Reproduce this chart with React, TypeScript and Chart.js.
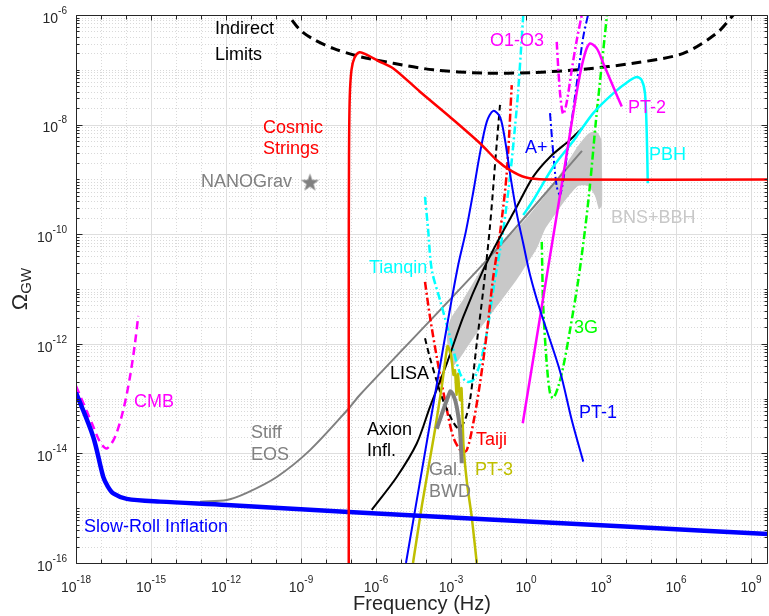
import { useEffect, useRef } from 'react';
import { Chart, registerables } from 'chart.js';

Chart.register(...registerables);

// Every series: pairs of [log10(frequency / Hz), log10(Omega_GW)]
type P = [number, number];

const slowRollInflation: P[] = [
  [-18, -12.89], [-17.31, -13.7], [-16.91, -14.43], [-16.72, -14.61], [-16.51, -14.73],
  [-15.97, -14.83], [-14.64, -14.88], [-11.97, -14.94], [-7.09, -15.07], [4.16, -15.34], [9.7, -15.47],
];
const stiffEOS: P[] = [
  [-13.04, -14.88], [-11.97, -14.85], [-11.17, -14.72], [-9.97, -14.43], [-8.64, -13.94],
  [-7.09, -13.18], [-6.64, -12.93], [-1.44, -10.41], [2.24, -8.48],
];
const cmb: P[] = [
  [-18, -12.77], [-17.31, -13.51], [-17.04, -13.79], [-16.77, -13.91], [-16.44, -13.7],
  [-16.11, -13.21], [-15.84, -12.6], [-15.64, -11.99], [-15.51, -11.49],
];
const cosmicStrings: P[] = [
  [-7.09, -16], [-7.09, -11], [-7.08, -8.6], [-7.05, -7.5], [-6.98, -7.0], [-6.86, -6.78],
  [-6.66, -6.68], [-6.4, -6.72], [-5.9, -6.84], [-5.32, -6.97], [-4.24, -7.4], [-3.04, -7.86],
  [-1.84, -8.34], [-1.17, -8.65], [-0.64, -8.83], [-0.03, -8.96], [0.76, -9.0], [9.7, -9.0],
];
const indirectLimits: P[] = [
  [-9.7, -5.85], [-9.51, -6.0], [-9.04, -6.27], [-8.51, -6.44], [-7.71, -6.61], [-6.64, -6.76],
  [-5.31, -6.88], [-3.71, -7.0], [-1.71, -7.06], [0.29, -7.05], [2.29, -6.99], [4.29, -6.88],
  [6.29, -6.7], [7.63, -6.33], [8.29, -6.0], [8.45, -5.9],
];
const axionInflation: P[] = [
  [-6.17, -15.03], [-5.17, -14.43], [-4.37, -13.82], [-3.84, -13.15], [-3.17, -12.36],
  [-2.51, -11.51], [-1.71, -10.65], [-1.04, -10.05], [-0.37, -9.5], [0.29, -8.95],
  [0.96, -8.59], [1.76, -8.28], [2.24, -8.07],
];
const lisa: P[] = [
  [-4.04, -11.9], [-3.84, -12.26], [-3.57, -12.68], [-3.31, -13.04], [-2.91, -13.43],
  [-2.68, -13.55], [-2.44, -13.39], [-2.24, -13.03], [-1.97, -11.99], [-1.71, -11.02],
  [-1.44, -9.85], [-1.2, -8.51], [-1.04, -7.64],
];
const taiji: P[] = [
  [-4.04, -10.87], [-3.84, -11.51], [-3.57, -12.24], [-3.24, -13.03], [-2.91, -13.7],
  [-2.57, -13.97], [-2.37, -13.94], [-2.11, -13.45], [-1.84, -12.72], [-1.57, -11.81],
  [-1.31, -10.78], [-1.04, -9.98], [-0.77, -8.88], [-0.57, -7.28],
];
const tianqin: P[] = [
  [-4.04, -9.32], [-3.92, -9.89], [-3.77, -10.65], [-3.44, -11.2], [-3.04, -11.87],
  [-2.64, -12.54], [-2.37, -12.69], [-2.11, -12.66], [-1.84, -12.36], [-1.57, -11.81],
  [-1.31, -11.02], [-0.91, -9.92], [-0.64, -8.95], [-0.44, -8.04], [-0.31, -7.37], [-0.11, -6.0],
];
const pt1: P[] = [
  [-4.8, -16.0], [-4.16, -14.3], [-3.12, -11.57], [-2.72, -10.58], [-2.4, -9.94], [-2.11, -9.23],
  [-1.84, -8.52], [-1.57, -7.95], [-1.31, -7.75], [-1.04, -7.86], [-0.84, -8.28], [-0.64, -8.89],
  [-0.37, -9.62], [-0.11, -10.17], [0.16, -10.74], [0.56, -11.38], [1.36, -12.5], [1.83, -13.39],
  [2.29, -14.15],
];
const pt3: P[] = [
  [-4.52, -16.0], [-4.16, -14.94], [-3.64, -13.57], [-3.36, -12.75], [-3.14, -12.04], [-3.0, -12.2],
  [-2.9, -12.57], [-2.84, -12.48], [-2.78, -12.93], [-2.72, -12.55], [-2.64, -13.03], [-2.58, -12.81],
  [-2.5, -13.85], [-2.36, -14.54], [-2.17, -15.16], [-1.97, -16.0],
];
const galacticBWD: P[] = [
  [-3.57, -13.55], [-3.03, -12.87], [-2.91, -12.93], [-2.77, -13.15], [-2.64, -13.57], [-2.57, -14.18],
];
const bnsBbhBand: P[] = [
  [-2.96, -12.44], [-3.16, -11.93], [-3.04, -11.57], [-2.52, -11.2], [-1.44, -10.4], [-0.64, -10.03],
  [0.16, -9.63], [0.96, -9.18], [1.56, -8.76], [2.08, -8.39], [2.48, -8.17], [2.8, -8.12],
  [3.0, -8.26], [3.04, -8.83], [3.04, -9.47], [2.92, -9.54], [2.76, -9.3], [2.48, -9.12],
  [2.08, -9.12], [1.64, -9.34], [1.24, -9.59], [0.76, -9.91], [0.44, -10.25], [-0.36, -10.82],
  [-1.16, -11.31], [-1.96, -11.8], [-2.64, -12.26], [-2.96, -12.44],
];
const thirdGen: P[] = [
  [0.63, -10.14], [0.69, -11.32], [0.83, -12.36], [0.96, -12.9], [1.09, -12.99], [1.29, -12.78],
  [1.49, -12.42], [1.76, -11.75], [2.09, -10.84], [2.36, -9.92], [2.56, -9.1], [2.8, -7.92],
  [3.03, -6.91], [3.24, -6.0],
];
const pt2: P[] = [
  [-0.13, -13.45], [0.96, -10.4], [1.5, -8.9], [2.09, -7.25], [2.36, -6.7], [2.56, -6.52],
  [2.83, -6.61], [3.09, -6.88], [3.49, -7.31], [3.83, -7.67],
];
const o1o3: P[] = [
  [1.23, -6.49], [1.29, -6.97], [1.38, -7.51], [1.49, -7.81], [1.63, -7.59], [1.83, -7.0],
  [2.03, -6.46], [2.23, -6.0],
];
const aPlus: P[] = [
  [0.96, -7.79], [1.09, -8.52], [1.23, -9.13], [1.36, -9.28], [1.49, -9.01], [1.76, -8.16],
  [2.03, -7.25], [2.29, -6.4], [2.48, -6.0],
];
const pbh: P[] = [
  [-0.11, -9.65], [0.29, -9.38], [1.09, -8.77], [1.89, -8.3], [2.69, -7.79], [3.49, -7.43],
  [4.16, -7.19], [4.44, -7.13], [4.63, -7.19], [4.76, -7.43], [4.83, -8.16], [4.87, -9.07],
];
const nanoGrav: P[] = [[-8.64, -9.05]];

// Axis ranges (log10) and tick labels
const xRange: [number, number] = [-18, 9.68];
const yRange: [number, number] = [-16, -6];
const xLabelExps = [-18, -15, -12, -9, -6, -3, 0, 3, 6, 9];
const yLabelExps = [-16, -14, -12, -10, -8, -6];

// Text annotations anchored in data space: log10 f of the left edge, log10 Omega of the middle
const annotations: { text: string; x: number; y: number; color: string }[] = [
  { text: 'Indirect', x: -12.44, y: -6.26, color: '#000000' },
  { text: 'Limits', x: -12.44, y: -6.73, color: '#000000' },
  { text: 'Cosmic', x: -10.52, y: -8.06, color: '#FF0000' },
  { text: 'Strings', x: -10.52, y: -8.45, color: '#FF0000' },
  { text: 'NANOGrav', x: -13.0, y: -9.05, color: '#808080' },
  { text: 'O1-O3', x: -1.44, y: -6.47, color: '#FF00FF' },
  { text: 'PT-2', x: 4.08, y: -7.7, color: '#FF00FF' },
  { text: 'A+', x: -0.04, y: -8.43, color: '#0000FF' },
  { text: 'PBH', x: 4.92, y: -8.55, color: '#00FFFF' },
  { text: 'BNS+BBH', x: 3.4, y: -9.7, color: '#C8C8C8' },
  { text: 'Tianqin', x: -6.28, y: -10.62, color: '#00FFFF' },
  { text: '3G', x: 1.92, y: -11.71, color: '#00FF00' },
  { text: 'CMB', x: -15.68, y: -13.06, color: '#FF00FF' },
  { text: 'LISA', x: -5.44, y: -12.55, color: '#000000' },
  { text: 'PT-1', x: 2.12, y: -13.26, color: '#0000FF' },
  { text: 'Stiff', x: -11.0, y: -13.63, color: '#808080' },
  { text: 'EOS', x: -11.0, y: -14.03, color: '#808080' },
  { text: 'Axion', x: -6.36, y: -13.57, color: '#000000' },
  { text: 'Infl.', x: -6.36, y: -13.96, color: '#000000' },
  { text: 'Taiji', x: -2.0, y: -13.76, color: '#FF0000' },
  { text: 'Gal.', x: -3.88, y: -14.3, color: '#808080' },
  { text: 'BWD', x: -3.88, y: -14.7, color: '#808080' },
  { text: 'PT-3', x: -2.04, y: -14.3, color: '#BFBF00' },
  { text: 'Slow-Roll Inflation', x: -17.68, y: -15.34, color: '#0000FF' },
];

const FONT = '"Liberation Sans", Arial, Helvetica, sans-serif';
const AXIS_COLOR = '#262626';

const toXY = (pts: P[]) => pts.map(([a, b]) => ({ x: Math.pow(10, a), y: Math.pow(10, b) }));

function makeStar(r: number, color: string): HTMLCanvasElement {
  const c = document.createElement('canvas');
  const s = Math.ceil(r * 2 + 2);
  c.width = s;
  c.height = s;
  const g = c.getContext('2d')!;
  g.fillStyle = color;
  g.beginPath();
  for (let i = 0; i < 10; i++) {
    const rr = i % 2 === 0 ? r : r * 0.4;
    const ang = -Math.PI / 2 + (i * Math.PI) / 5;
    const px = s / 2 + rr * Math.cos(ang);
    const py = s / 2 + rr * Math.sin(ang) + 0.8;
    if (i === 0) g.moveTo(px, py);
    else g.lineTo(px, py);
  }
  g.closePath();
  g.fill();
  return c;
}

function line(data: P[], color: string, width: number, dash: number[] = [], tension = 0.3, order = 0) {
  return {
    data: toXY(data),
    borderColor: color,
    backgroundColor: color,
    borderWidth: width,
    borderDash: dash,
    pointRadius: 0,
    pointHoverRadius: 0,
    showLine: true,
    fill: false,
    tension,
    order,
    borderCapStyle: 'butt' as const,
    borderJoinStyle: 'round' as const,
  };
}

function drawPow(ctx: CanvasRenderingContext2D, exp: number, x: number, y: number, align: 'center' | 'right') {
  const base = '10';
  const e = String(exp);
  ctx.font = `14px ${FONT}`;
  const w1 = ctx.measureText(base).width;
  ctx.font = `10px ${FONT}`;
  const w2 = ctx.measureText(e).width;
  const total = w1 + w2;
  const start = align === 'center' ? x - total / 2 : x - total;
  ctx.textAlign = 'left';
  ctx.textBaseline = 'middle';
  ctx.font = `14px ${FONT}`;
  ctx.fillText(base, start, y);
  ctx.font = `10px ${FONT}`;
  ctx.fillText(e, start + w1, y - 8);
}

const matlabAxes = {
  id: 'matlabAxes',
  beforeDatasetsDraw(chart: any) {
    const { ctx, chartArea: a, scales } = chart;
    const xs = scales.x;
    const ys = scales.y;
    const px = (e: number) => Math.round(xs.getPixelForValue(Math.pow(10, e))) + 0.5;
    const py = (v: number) => Math.round(ys.getPixelForValue(v)) + 0.5;
    ctx.save();
    ctx.lineWidth = 1;
    // minor dotted grid
    ctx.strokeStyle = '#D9D9D9';
    ctx.setLineDash([1, 2]);
    ctx.beginPath();
    for (let e = Math.ceil(xRange[0]); e <= Math.floor(xRange[1]); e++) {
      if (xLabelExps.includes(e)) continue;
      const x = px(e);
      ctx.moveTo(x, a.top);
      ctx.lineTo(x, a.bottom);
    }
    for (let n = yRange[0]; n < yRange[1]; n++) {
      for (let k = 1; k <= 9; k++) {
        if (k === 1 && yLabelExps.includes(n)) continue;
        const y = py(k * Math.pow(10, n));
        ctx.moveTo(a.left, y);
        ctx.lineTo(a.right, y);
      }
    }
    ctx.stroke();
    // major solid grid
    ctx.setLineDash([]);
    ctx.strokeStyle = '#DEDEDE';
    ctx.beginPath();
    for (const e of xLabelExps) {
      const x = px(e);
      ctx.moveTo(x, a.top);
      ctx.lineTo(x, a.bottom);
    }
    for (const n of yLabelExps) {
      const y = py(Math.pow(10, n));
      ctx.moveTo(a.left, y);
      ctx.lineTo(a.right, y);
    }
    ctx.stroke();
    ctx.restore();
  },
  afterDatasetsDraw(chart: any) {
    const { ctx, chartArea: a, scales } = chart;
    const xs = scales.x;
    const ys = scales.y;
    const px = (e: number) => Math.round(xs.getPixelForValue(Math.pow(10, e))) + 0.5;
    const py = (v: number) => Math.round(ys.getPixelForValue(v)) + 0.5;
    ctx.save();
    // box
    ctx.strokeStyle = AXIS_COLOR;
    ctx.lineWidth = 1;
    const L = Math.round(a.left) + 0.5;
    const R = Math.round(a.right) - 0.5;
    const T = Math.round(a.top) + 0.5;
    const B = Math.round(a.bottom) + 0.5;
    ctx.beginPath();
    ctx.moveTo(L, T);
    ctx.lineTo(R, T);
    ctx.moveTo(L, T);
    ctx.lineTo(L, B);
    ctx.lineTo(R, B);
    ctx.moveTo(R, T);
    ctx.lineTo(R, B);
    // x ticks
    for (let e = Math.ceil(xRange[0]); e <= Math.floor(xRange[1]); e++) {
      const x = px(e);
      const len = xLabelExps.includes(e) ? 5 : 4;
      ctx.moveTo(x, B);
      ctx.lineTo(x, B - len);
      ctx.moveTo(x, T);
      ctx.lineTo(x, T + len);
    }
    // y ticks
    for (let n = yRange[0]; n <= yRange[1]; n++) {
      for (let k = 1; k <= 9; k++) {
        if (n === yRange[1] && k > 1) break;
        const y = py(k * Math.pow(10, n));
        const len = k === 1 && yLabelExps.includes(n) ? 6 : 3;
        ctx.moveTo(L, y);
        ctx.lineTo(L + len, y);
        ctx.moveTo(R, y);
        ctx.lineTo(R - len, y);
      }
    }
    ctx.stroke();

    // tick labels
    ctx.fillStyle = AXIS_COLOR;
    for (const e of xLabelExps) {
      drawPow(ctx, e, xs.getPixelForValue(Math.pow(10, e)), a.bottom + 25, 'center');
    }
    for (const n of yLabelExps) {
      drawPow(ctx, n, a.left - 9, ys.getPixelForValue(Math.pow(10, n)) + 4, 'right');
    }

    // axis titles
    ctx.font = `20px ${FONT}`;
    ctx.textAlign = 'center';
    ctx.textBaseline = 'middle';
    ctx.fillText('Frequency (Hz)', (a.left + a.right) / 2, 604);

    ctx.save();
    ctx.translate(19, (a.top + a.bottom) / 2);
    ctx.rotate(-Math.PI / 2);
    ctx.font = `22px ${FONT}`;
    const wO = ctx.measureText('Ω').width;
    ctx.font = `15px ${FONT}`;
    const wG = ctx.measureText('GW').width;
    const s0 = -(wO + wG) / 2;
    ctx.textAlign = 'left';
    ctx.textBaseline = 'alphabetic';
    ctx.font = `22px ${FONT}`;
    ctx.fillText('Ω', s0, 8);
    ctx.font = `15px ${FONT}`;
    ctx.fillText('GW', s0 + wO, 12);
    ctx.restore();

    // annotations
    ctx.font = `18px ${FONT}`;
    ctx.textAlign = 'left';
    ctx.textBaseline = 'middle';
    for (const t of annotations) {
      ctx.fillStyle = t.color;
      ctx.fillText(t.text, xs.getPixelForValue(Math.pow(10, t.x)), ys.getPixelForValue(Math.pow(10, t.y)));
    }
    ctx.restore();
  },
};

export default function App() {
  const ref = useRef<HTMLCanvasElement | null>(null);

  useEffect(() => {
    if (!ref.current) return;
    const star = makeStar(9.5, '#808080');
    const datasets: any[] = [
      {
        data: toXY(nanoGrav),
        showLine: false,
        pointStyle: star,
        pointRadius: 10,
        pointHoverRadius: 10,
        order: 0,
      },
      line(cosmicStrings, '#FF0000', 2.5, [], 0.3),
      line(slowRollInflation, '#0000FF', 4.5, [], 0.3),
      line(pt1, '#0000FF', 2, [], 0.3),
      line(pt2, '#FF00FF', 2.5, [], 0.3),
      line(pbh, '#00FFFF', 2.5, [], 0.3),
      line(galacticBWD, '#808080', 4, [], 0.2),
      line(pt3, '#BFBF00', 2.5, [], 0.15),
      line(axionInflation, '#000000', 2, [], 0.3),
      line(lisa, '#000000', 2, [6, 4], 0.3),
      line(taiji, '#FF0000', 2.5, [8, 3, 2, 3], 0.3),
      line(tianqin, '#00FFFF', 2.5, [8, 3, 2, 3], 0.3),
      line(aPlus, '#0000FF', 2, [8, 3, 2, 3], 0.3),
      line(o1o3, '#FF00FF', 2.5, [8, 3, 2, 3], 0.3),
      line(thirdGen, '#00FF00', 2.5, [8, 3, 2, 3], 0.3),
      line(indirectLimits, '#000000', 3, [10, 6], 0.3),
      line(cmb, '#FF00FF', 2.5, [8, 5], 0.3),
      line(stiffEOS, '#808080', 2, [], 0.3),
      {
        data: toXY(bnsBbhBand),
        showLine: true,
        borderWidth: 0,
        borderColor: 'rgba(0,0,0,0)',
        backgroundColor: '#C8C8C8',
        fill: 'shape',
        pointRadius: 0,
        pointHoverRadius: 0,
        tension: 0.2,
        order: 5,
      },
    ];

    const chart = new Chart(ref.current, {
      type: 'scatter',
      data: { datasets },
      plugins: [matlabAxes as any],
      options: {
        animation: false,
        responsive: false,
        events: [],
        layout: { autoPadding: false, padding: { left: 0, right: 1, top: 15, bottom: 0 } },
        plugins: { legend: { display: false }, tooltip: { enabled: false } },
        scales: {
          x: {
            type: 'logarithmic',
            min: Math.pow(10, xRange[0]),
            max: Math.pow(10, xRange[1]),
            bounds: 'data',
            grid: { display: false },
            border: { display: false },
            ticks: { display: false },
            afterFit: (s: any) => {
              s.height = 53;
            },
          },
          y: {
            type: 'logarithmic',
            min: Math.pow(10, yRange[0]),
            max: Math.pow(10, yRange[1]),
            bounds: 'data',
            grid: { display: false },
            border: { display: false },
            ticks: { display: false },
            afterFit: (s: any) => {
              s.width = 76;
            },
          },
        },
      } as any,
    });
    return () => chart.destroy();
  }, []);

  return (
    <div style={{ position: 'absolute', left: 0, top: 0, width: 769, height: 616, background: '#ffffff', overflow: 'hidden' }}>
      <canvas ref={ref} width={769} height={616} style={{ display: 'block', width: 769, height: 616 }} />
    </div>
  );
}
